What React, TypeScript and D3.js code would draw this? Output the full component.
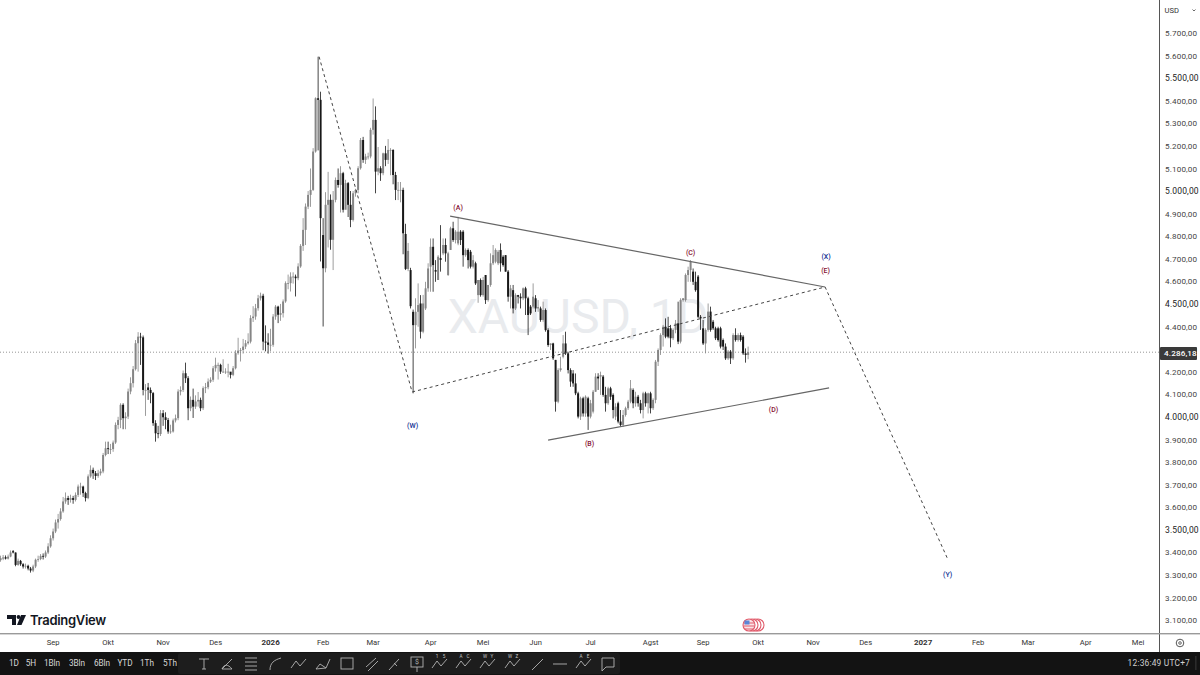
import React from "react";
import * as d3 from "d3";

// Daily XAUUSD bars (USD)
const opens = [
3365,3372,3378,3372,3381,3405,3399,3344,3362,3347,
3337,3340,3328,3319,3337,3367,3370,3384,3381,3399,
3426,3462,3492,3532,3547,3581,3625,3640,3632,3640,
3632,3654,3691,3691,3662,3640,3736,3765,3750,3738,
3750,3758,3831,3861,3857,3857,3886,3964,3986,4053,
3994,4001,4112,4149,4211,4326,4355,4352,4119,4130,
4119,4105,3972,3927,3924,4016,3998,3986,3935,3935,
3984,3994,4112,4119,4193,4171,4038,4075,4045,4068,
4075,4038,4127,4131,4156,4164,4215,4230,4230,4200,
4200,4200,4200,4186,4215,4282,4293,4296,4311,4326,
4333,4437,4444,4481,4525,4536,4333,4329,4319,4319,
4444,4488,4452,4459,4511,4592,4592,4621,4621,4614,
4666,4757,4828,4931,4983,5005,5175,5411,5404,4805,
4658,4939,4961,4784,4961,5049,5027,5079,4917,5035,
4939,4872,4990,5005,5101,5226,5138,5153,5153,5271,
5315,5086,5101,5079,5167,5138,5182,5182,5071,5005,
5005,5005,4810,4655,4650,4465,4406,4465,4502,4377,
4480,4569,4665,4753,4650,4606,4703,4724,4761,4628,
4739,4835,4783,4768,4820,4820,4716,4739,4731,4665,
4680,4539,4606,4539,4628,4517,4584,4680,4687,4680,
4739,4709,4716,4643,4532,4561,4480,4539,4532,4525,
4569,4525,4488,4488,4525,4480,4480,4429,4473,4384,
4318,4325,4252,4067,4207,4266,4325,4281,4207,4192,
4148,4104,4001,4082,4015,4082,4001,4023,4111,4178,
4178,4178,4097,4060,4126,4097,4001,4060,3979,3964,
4008,4038,4067,4119,4060,4089,4060,4030,4104,4060,
4104,4038,4075,4244,4296,4362,4399,4392,4392,4348,
4385,4414,4333,4517,4517,4628,4650,4643,4598,4621,
4443,4392,4325,4385,4466,4421,4392,4392,4392,4340,
4311,4259,4289,4259,4362,4340,4362,4355,4281,4274,
];
const closes = [
3374,3377,3372,3381,3399,3399,3344,3362,3347,3337,
3340,3328,3319,3337,3367,3370,3384,3381,3399,3426,
3462,3492,3532,3547,3581,3625,3640,3632,3640,3632,
3654,3691,3691,3662,3640,3736,3765,3750,3738,3750,
3758,3831,3861,3857,3857,3886,3964,3986,4053,3994,
4001,4112,4149,4211,4326,4355,4352,4119,4119,4119,
4105,3972,3927,3924,4016,3998,3986,3935,3935,3984,
3994,4112,4119,4193,4171,4038,4075,4045,4068,4075,
4038,4127,4131,4156,4164,4215,4230,4230,4200,4200,
4200,4200,4186,4215,4282,4293,4296,4311,4326,4333,
4437,4444,4481,4525,4536,4333,4329,4319,4319,4444,
4488,4452,4459,4511,4592,4592,4621,4621,4614,4666,
4757,4828,4931,4983,5005,5175,5411,5404,4880,4658,
4939,4961,4784,4961,5049,5027,5079,4917,5035,4939,
4872,4990,5005,5101,5226,5138,5153,5153,5271,5315,
5086,5101,5079,5167,5138,5182,5182,5071,5005,5005,
5005,4813,4655,4735,4490,4406,4465,4495,4377,4502,
4569,4657,4753,4672,4643,4709,4695,4761,4724,4724,
4835,4783,4820,4820,4783,4716,4739,4694,4665,4694,
4591,4606,4539,4606,4517,4584,4680,4716,4739,4731,
4680,4672,4643,4532,4569,4480,4539,4532,4525,4569,
4525,4451,4458,4532,4480,4486,4429,4473,4384,4318,
4325,4259,4067,4207,4215,4325,4281,4207,4156,4148,
4104,4001,4082,4015,4089,4001,4060,4111,4178,4170,
4185,4097,4060,4126,4089,4030,4045,3979,3964,4008,
4038,4067,4126,4060,4089,4060,4030,4104,4060,4104,
4038,4075,4244,4296,4362,4399,4355,4355,4348,4385,
4414,4333,4517,4525,4628,4650,4687,4598,4561,4443,
4436,4325,4385,4466,4385,4392,4348,4340,4311,4311,
4259,4289,4259,4362,4340,4362,4340,4281,4274,4286.18,
];
const highs = [
3385,3388,3386,3390,3408,3410,3399,3372,3366,3352,
3350,3345,3335,3345,3372,3385,3392,3395,3408,3440,
3475,3505,3545,3570,3595,3645,3665,3650,3655,3650,
3665,3700,3708,3695,3668,3745,3785,3775,3760,3765,
3770,3840,3890,3890,3880,3895,3975,4000,4060,4060,
4020,4125,4175,4225,4340,4375,4372,4360,4145,4150,
4130,4110,3985,3960,4030,4030,4020,3995,3965,3992,
4010,4122,4135,4205,4240,4180,4090,4125,4095,4110,
4085,4135,4150,4170,4175,4225,4262,4240,4235,4255,
4215,4235,4195,4225,4295,4350,4305,4345,4340,4370,
4450,4490,4500,4540,4550,4545,4405,4370,4390,4455,
4495,4492,4500,4520,4600,4630,4640,4640,4630,4680,
4765,4880,4945,5000,5100,5190,5415,5595,5440,4880,
4995,5085,4985,5000,5060,5100,5110,5085,5050,5040,
5000,5000,5010,5110,5235,5240,5165,5170,5280,5410,
5375,5195,5110,5170,5200,5230,5190,5185,5085,5040,
5040,5015,4855,4770,4660,4475,4525,4591,4539,4540,
4598,4680,4790,4790,4694,4716,4849,4790,4790,4731,
4842,4864,4827,4886,4827,4827,4746,4746,4739,4716,
4687,4606,4613,4620,4628,4584,4724,4761,4746,4739,
4768,4716,4716,4650,4584,4584,4547,4540,4547,4573,
4576,4532,4495,4591,4539,4517,4488,4510,4480,4392,
4325,4328,4252,4215,4266,4362,4377,4288,4215,4207,
4192,4111,4089,4089,4095,4089,4075,4119,4193,4193,
4200,4185,4133,4133,4133,4104,4060,4067,4030,4030,
4045,4075,4163,4126,4111,4097,4075,4111,4111,4107,
4111,4082,4252,4303,4370,4407,4436,4443,4407,4392,
4429,4510,4525,4525,4635,4665,4694,4657,4643,4628,
4451,4429,4392,4502,4488,4429,4399,4399,4399,4347,
4325,4296,4296,4370,4392,4370,4373,4362,4303,4311,
];
const lows = [
3358,3365,3368,3368,3378,3395,3338,3340,3340,3328,
3328,3320,3310,3312,3330,3358,3365,3368,3375,3392,
3420,3452,3485,3505,3540,3575,3615,3610,3620,3615,
3625,3645,3655,3645,3625,3635,3730,3725,3720,3730,
3740,3750,3825,3835,3835,3845,3880,3945,3950,3945,
3945,3990,4100,4130,4205,4200,4230,4095,4004,4075,
4060,3960,3890,3905,3915,3960,3945,3925,3925,3930,
3975,3985,4095,4110,4150,3985,4025,3995,4035,4045,
4025,4030,4105,4122,4150,4155,4200,4165,4190,4195,
4190,4175,4170,4180,4210,4275,4245,4280,4300,4320,
4325,4420,4430,4470,4515,4295,4290,4280,4290,4310,
4430,4415,4425,4440,4505,4565,4555,4590,4533,4605,
4660,4735,4761,4920,4930,5000,5170,5180,4688,4400,
4640,4750,4740,4650,4950,5015,4905,4905,5020,4885,
4840,4865,4975,4990,5095,5125,5120,5140,5145,5250,
4990,5070,5045,5070,5110,5120,5070,5030,4960,4960,
4950,4720,4650,4645,4480,4104,4303,4399,4347,4370,
4473,4554,4554,4554,4598,4606,4643,4716,4687,4624,
4739,4775,4768,4760,4761,4665,4709,4657,4657,4657,
4584,4505,4532,4532,4500,4510,4576,4672,4680,4672,
4643,4665,4643,4510,4480,4458,4473,4502,4480,4517,
4451,4362,4451,4480,4465,4465,4421,4421,4377,4310,
4296,4252,4023,4060,4200,4259,4274,4192,4133,4133,
4096,3993,3986,4001,4000,3942,3993,4015,4111,4119,
4097,4089,4023,4053,4075,3993,3986,3971,3956,3956,
4001,4030,4060,4038,4045,4045,4015,3993,4045,4015,
4015,4030,4060,4225,4274,4311,4348,4348,4308,4340,
4370,4322,4325,4510,4510,4598,4598,4584,4554,4436,
4385,4318,4281,4377,4377,4385,4340,4333,4303,4296,
4252,4252,4234,4252,4333,4333,4333,4274,4240,4255,
];

// Price axis and time axis
const priceTicks = [5700,5600,5500,5400,5300,5200,5100,5000,4900,4800,4700,4600,4500,4400,4300,4200,4100,4000,3900,3800,3700,3600,3500,3400,3300,3200,3100];
const lastPrice = 4286.18;
const monthLabels = ["Sep","Okt","Nov","Des","2026","Feb","Mar","Apr","Mei","Jun","Jul","Agst","Sep","Okt","Nov","Des","2027","Feb","Mar","Apr","Mei"];
const monthBars = [21,43,65,86,108,129,149,172,193,214,236,260,281,303,325,346,369,391,411,434,455];

// Drawn wave lines, in [bar, price]
const waveBars = [127.4,164.6,329.8,379];
const wavePrices = [5595,4110,4575,3366];
const upperBars = [179.8,329.8];
const upperPrices = [4889,4575];
const lowerBars = [219,331.4];
const lowerPrices = [3897,4128];

// Wave annotations
const labelTexts = ["(A)","(B)","(C)","(D)","(E)","(W)","(X)","(Y)"];
const labelBars = [183,235.6,276,309.2,330,164.8,330.2,378.8];
const labelPrices = [4925,3878,4727,4030,4645,3960,4708,3300];
const labelColors = ["#851031","#851031","#851031","#851031","#851031","#102f92","#102f92","#102f92"];

const timeframes = ["1D","5H","1Bln","3Bln","6Bln","YTD","1Th","5Th"];
const timeframeX = [14,31,52,77,102,125,147,170];
const toolLetters = [["1","5"],["A","C"],["W","Y"],["W","Z"]];
const toolLetterLeft = [437,461,485,510];

const fontUi = "Roboto, 'Open Sans', sans-serif";
const y = d3.scaleLinear().domain([3100, 5700]).range([620, 33]);
const x = d3.scaleLinear().domain([0, 300]).range([0.6, 750.6]);
const fmt = d3.formatLocale({ decimal: ",", thousands: ".", grouping: [3], currency: ["", ""] }).format(",.2f");
const line = (bars: number[], prices: number[]) =>
  d3.line<number>().x((b) => x(b)).y((_, i) => y(prices[i]))(bars) as string;

const Zig = ({ cx }: { cx: number }) => (
  <path d={`M${cx - 8} 668 L${cx - 3} 661 L${cx + 1} 666 L${cx + 7} 659`} fill="none" stroke="#b4b4b4" strokeWidth="0.9" />
);

export default function App() {
  const up = "#858585";
  const dn = "#181818";
  return (
    <svg width={1200} height={675} style={{ position: "fixed", left: 0, top: 0, background: "#fff", fontFamily: fontUi }}>
      <rect width={1200} height={675} fill="#fff" />
      <text x={578} y={333} textAnchor="middle" fontSize={48} fill="#e9ebee" fontFamily={fontUi}>XAUUSD, 1D</text>
      <line x1={0} x2={1159} y1={y(lastPrice)} y2={y(lastPrice)} stroke="#8a8a8a" strokeWidth={0.9} strokeDasharray="1 2" />

      {closes.map((c, i) => {
        const col = c >= opens[i] ? up : dn;
        const top = y(Math.max(c, opens[i]));
        const bot = y(Math.min(c, opens[i]));
        return (
          <g key={i} fill={col}>
            <rect x={x(i) - 0.4} width={0.8} y={y(highs[i])} height={y(lows[i]) - y(highs[i])} />
            <rect x={x(i) - 1} width={2} y={top} height={Math.max(bot - top, 0.8)} />
          </g>
        );
      })}

      <path d={line(upperBars, upperPrices)} stroke="#666" strokeWidth={1.2} fill="none" />
      <path d={line(lowerBars, lowerPrices)} stroke="#666" strokeWidth={1.2} fill="none" />
      <path d={line(waveBars, wavePrices)} stroke="#444" strokeWidth={1} strokeDasharray="3 3" fill="none" />
      {labelTexts.map((t, i) => (
        <text key={t} x={x(labelBars[i])} y={y(labelPrices[i])} fontSize={7} fontWeight={500} fontFamily={fontUi} fill={labelColors[i]} textAnchor="middle" dominantBaseline="middle">{t}</text>
      ))}

      {/* logo */}
      <g fill="#131722">
        <path d="M7 615 H16 V625 H12 V619 H7 Z" />
        <circle cx={18.5} cy={617} r={1.9} />
        <path d="M21 615 H26 L21.5 625 H17 Z" />
        <text x={30} y={625} fontSize={13} fontWeight={600} fontFamily="Inter, Roboto, sans-serif" letterSpacing={-0.3}>TradingView</text>
      </g>

      {/* event flags */}
      <g>
        {[758, 755, 752].map((cx) => (
          <circle key={cx} cx={cx} cy={625} r={6} fill="#fff" stroke="#e05a6a" strokeWidth={1.1} />
        ))}
        <circle cx={749} cy={625} r={6} fill="#fbe3e6" stroke="#e05a6a" strokeWidth={1.1} />
        <path d="M744 623 H754 M743.5 626 H754.5 M745 629 H753" stroke="#e05a6a" strokeWidth={1} />
        <rect x={744.5} y={620.5} width={5} height={4} fill="#5b86d8" />
      </g>

      {/* price axis */}
      <rect x={1159} y={0} width={1} height={653} fill="#555" />
      {priceTicks.map((p) => (
        <text key={p} x={1165} y={y(p) + 1} dominantBaseline="middle" fontSize={p % 500 === 0 ? 8.5 : 8.1} fill={p % 500 === 0 ? "#222" : "#444"} letterSpacing={0.15}>{fmt(p)}</text>
      ))}
      <rect x={1160} y={347} width={37} height={13} rx={1} fill="#3a3a3a" />
      <text x={1164} y={354.3} dominantBaseline="middle" fontSize={8.1} fontWeight={500} fill="#fff" letterSpacing={0.15}>{fmt(lastPrice)}</text>
      <text x={1164.5} y={10.5} dominantBaseline="middle" fontSize={7.6} fill="#333">USD</text>
      <path d="M1192.5 9.5 L1194 11 L1195.5 9.5" fill="none" stroke="#444" strokeWidth={0.8} />

      {/* time axis */}
      <rect x={0} y={633} width={1200} height={1.4} fill="#9a9a9a" />
      {monthLabels.map((m, i) => (
        <text key={i} x={x(monthBars[i])} y={643} textAnchor="middle" dominantBaseline="middle" fontSize={m.length === 4 && m !== "Agst" ? 8 : 7.6} fontWeight={m.length === 4 && m !== "Agst" ? 700 : 400} fill="#333">{m}</text>
      ))}
      <circle cx={1180} cy={643} r={3.8} fill="none" stroke="#444" strokeWidth={0.9} />
      <circle cx={1180} cy={643} r={1.3} fill="none" stroke="#444" strokeWidth={0.8} />

      {/* bottom toolbar */}
      <rect x={0} y={652} width={1200} height={23} fill="#131313" />
      <rect x={178} y={653} width={442} height={21} rx={2} fill="#1d1d1d" />
      {timeframes.map((t, i) => (
        <text key={t} x={timeframeX[i]} y={663.5} textAnchor="middle" dominantBaseline="middle" fontSize={8.2} fill="#d8d8d8">{t}</text>
      ))}
      <text x={1190} y={663.5} textAnchor="end" dominantBaseline="middle" fontSize={8.4} fill="#d0d0d0" letterSpacing={0.2}>12:36:49 UTC+7</text>
      <rect x={1195.5} y={656} width={0.8} height={14} fill="#444" />

      <g fill="none" stroke="#b4b4b4" strokeWidth={0.9}>
        <path d="M199 659 H209 M204 659 V669 M202 669 H206" />
        <path d="M222 669 L232 659 M222 669 C224 664 228 664 232 669 H222" />
        <path d="M245 658 H257 M245 662 H257 M245 666 H257 M245 670 H257" />
        <path d="M270 670 C270 663 274 660 281 658" />
        <Zig cx={299} />
        <path d="M316 669 L320 664 L326 668 L330 659 M316 669 L326 668" />
        <rect x={341} y={658} width={12} height={11} />
        <path d="M366 667 L376 658 M368 671 L378 661" />
        <path d="M389 670 L399 659 M394 663 L397 666" />
        <rect x={411} y={657} width={12} height={10} />
        <path d="M417 667 V672" />
        <Zig cx={440} />
        <Zig cx={464} />
        <Zig cx={488} />
        <Zig cx={513} />
        <path d="M532 670 L543 659" />
        <path d="M553 664 H567" />
        <Zig cx={584} />
        <path d="M602 658 H614 V667 H606 L602 671 Z" />
      </g>
      <text x={417} y={662} textAnchor="middle" dominantBaseline="middle" fontSize={7} fill="#b4b4b4">$</text>
      {toolLetters.map((pair, i) => (
        <g key={i} fontSize={4.6} fill="#c4c4c4" textAnchor="middle">
          <text x={toolLetterLeft[i]} y={658}>{pair[0]}</text>
          <text x={toolLetterLeft[i] + 7} y={658}>{pair[1]}</text>
        </g>
      ))}
      <g fontSize={4.6} fill="#c4c4c4" textAnchor="middle">
        <text x={581} y={658}>A</text>
        <text x={588} y={658}>E</text>
      </g>
    </svg>
  );
}
